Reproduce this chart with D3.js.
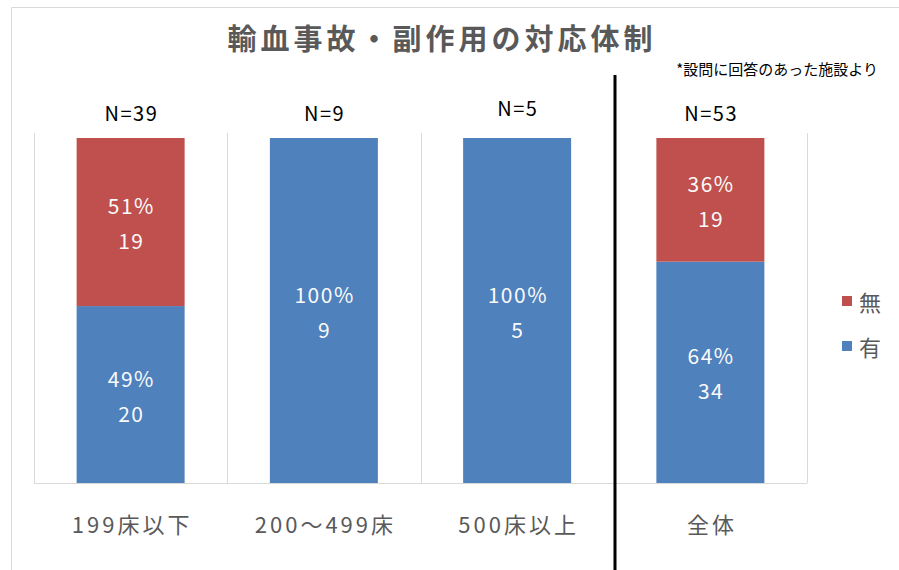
<!DOCTYPE html>
<html><head><meta charset="utf-8">
<script src="https://cdn.jsdelivr.net/npm/d3@7"></script>
<style>body{margin:0;background:#fff}svg{display:block}</style>
</head><body>
<script>
const categories = ["199床以下","200～499床","500床以上","全体"];
const nLabels = ["N=39","N=9","N=5","N=53"];
const seriesNames = ["有","無"];
const countYes = [20, 9, 5, 34];
const countNo = [19, 0, 0, 19];
const pctYes = ["49%","100%","100%","64%"];
const pctNo = ["51%","","","36%"];
const colors = {"有":"#4F81BD","無":"#C0504D"};

const W=899,H=570;
const svg=d3.select("body").append("svg").attr("width",W).attr("height",H);
const font="'Noto Sans CJK JP','Noto Sans',sans-serif";

// outer border
svg.append("path").attr("d","M11.5,570 V7.5 H899").attr("fill","none").attr("stroke","#d9d9d9").attr("stroke-width",1);

const pLeft=34,pRight=807,pTop=138,pBottom=483;
const x=d3.scaleBand().domain(categories).range([pLeft,pRight]).paddingInner(0).paddingOuter(0);
const y=d3.scaleLinear().domain([0,1]).range([pBottom,pTop]);

// gridlines
const g=svg.append("g");
const bounds=[pLeft,...categories.map(c=>x(c)+x.bandwidth())];
g.selectAll("line.grid").data(bounds).enter().append("line")
 .attr("x1",d=>Math.round(d)+0.5).attr("x2",d=>Math.round(d)+0.5)
 .attr("y1",133).attr("y2",pBottom).attr("stroke","#d9d9d9");
g.append("line").attr("x1",pLeft).attr("x2",pRight).attr("y1",pBottom+0.5).attr("y2",pBottom+0.5).attr("stroke","#d9d9d9");

const data=categories.map((c,i)=>({cat:c,"有":countYes[i],"無":countNo[i],pYes:pctYes[i],pNo:pctNo[i],n:nLabels[i]}));
const stack=d3.stack().keys(seriesNames).offset(d3.stackOffsetExpand);
const series=stack(data);
const bw=108;
const bx=c=>x(c)+x.bandwidth()/2-bw/2;

function spaced(sel,ls){ // centre text with letter-spacing compensation
  sel.attr("letter-spacing",ls).attr("dx",ls/2);
}

series.forEach(s=>{
  svg.append("g").selectAll("rect").data(s).enter().append("rect")
   .attr("x",d=>bx(d.data.cat)).attr("width",bw)
   .attr("y",d=>y(d[1])).attr("height",d=>y(d[0])-y(d[1]))
   .attr("fill",colors[s.key]);
  svg.append("g").selectAll("g").data(s.filter(d=>d[1]-d[0]>0)).enter().append("g")
   .each(function(d){
     const cx=x(d.data.cat)+x.bandwidth()/2;
     const cy=(y(d[0])+y(d[1]))/2;
     const pct=s.key==="有"?d.data.pYes:d.data.pNo;
     const cnt=d.data[s.key];
     const gg=d3.select(this);
     gg.append("text").attr("x",cx).attr("y",cy-17).attr("text-anchor","middle").attr("dominant-baseline","central")
       .attr("fill","#fafafa").attr("font-family",font).attr("font-size",21).call(spaced,1.5).text(pct);
     gg.append("text").attr("x",cx).attr("y",cy+18).attr("text-anchor","middle").attr("dominant-baseline","central")
       .attr("fill","#fafafa").attr("font-family",font).attr("font-size",21).call(spaced,1.5).text(cnt);
   });
});

// N labels
svg.append("g").selectAll("text").data(data).enter().append("text")
 .attr("x",d=>x(d.cat)+x.bandwidth()/2).attr("y",(d,i)=>i===2?107:112)
 .attr("text-anchor","middle").attr("dominant-baseline","central")
 .attr("font-family",font).attr("font-size",20).attr("fill","#000").call(spaced,1.5).text(d=>d.n);

// category axis labels
const xAxis=d3.axisBottom(x).tickSize(0).tickPadding(0);
const ax=svg.append("g").attr("transform",`translate(0,${pBottom})`).call(xAxis);
ax.select(".domain").remove();
ax.selectAll("text").attr("y",40).attr("dy",0).attr("dominant-baseline","central")
 .attr("font-family",font).attr("font-size",22).attr("fill","#595959").call(spaced,3);

// divider
svg.append("line").attr("x1",615).attr("x2",615).attr("y1",75).attr("y2",570).attr("stroke","#000").attr("stroke-width",3);

// title
svg.append("text").attr("x",440).attr("y",37).attr("text-anchor","middle").attr("dominant-baseline","central")
 .attr("font-family",font).attr("font-size",29).attr("font-weight","bold").attr("fill","#595959").call(spaced,4)
 .text("輸血事故・副作用の対応体制");
svg.append("text").attr("x",878).attr("y",68).attr("text-anchor","end").attr("dominant-baseline","central")
 .attr("font-family",font).attr("font-size",15).attr("fill","#000")
 .text("*設問に回答のあった施設より");

// legend
const leg=svg.append("g");
const legItems=["無","有"];
legItems.forEach((k,i)=>{
  const ly=301+i*45;
  leg.append("rect").attr("x",842).attr("y",ly-5).attr("width",10).attr("height",10).attr("fill",colors[k]);
  leg.append("text").attr("x",859).attr("y",ly).attr("dominant-baseline","central")
   .attr("font-family",font).attr("font-size",22).attr("fill","#595959").text(k);
});
</script>
</body></html>
